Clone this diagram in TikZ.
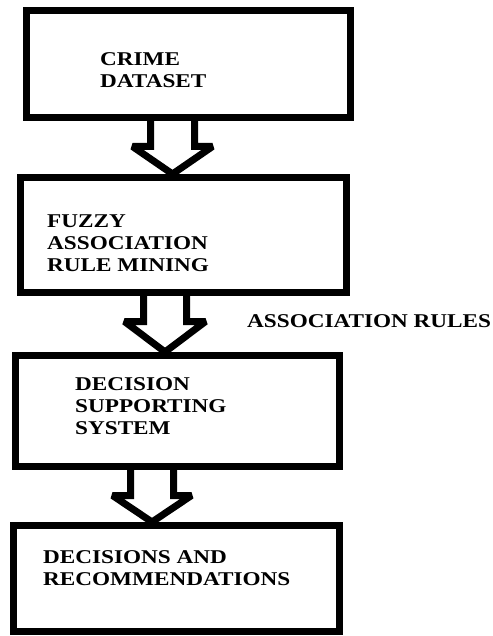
\documentclass[tikz,border=0pt]{standalone}
\usepackage{fontspec}
\setmainfont{Liberation Serif}[FakeStretch=1.19]
\usetikzlibrary{calc}
\begin{document}
\begin{tikzpicture}[x=1pt,y=-1pt,
  box/.style={draw=black, line width=7pt, rectangle, inner sep=0pt},
  barrow/.style={draw=black, line width=7pt, line join=miter, miter limit=2},
  lbl/.style={anchor=base west, inner sep=0pt, align=left, font=\fontsize{19.5}{22}\selectfont\bfseries}]
\useasboundingbox (0,0) rectangle (492,636);
% boxes
\node[box, minimum width=324pt, minimum height=107pt] (b1) at (188.5,64) {};
\node[box, minimum width=326pt, minimum height=115pt] (b2) at (183.5,235) {};
\node[box, minimum width=324pt, minimum height=111pt] (b3) at (177.5,411) {};
\node[box, minimum width=326pt, minimum height=106pt] (b4) at (176.5,578.5) {};
% texts (anchored at the baseline of their last line)
\node[lbl] (t1) at (100,88) {CRIME\\DATASET};
\node[lbl] (t2) at (47,271) {FUZZY\\ASSOCIATION\\RULE MINING};
\node[lbl] (t3) at (75,434) {DECISION\\SUPPORTING\\SYSTEM};
\node[lbl] (t4) at (43,585) {DECISIONS AND\\RECOMMENDATIONS};
\node[lbl] (t5) at (247,327) {ASSOCIATION RULES};
% head-top centres of the block arrows
\coordinate (c1) at (172.5,146.5);
\coordinate (c2) at (165,321.5);
\coordinate (c3) at (152,495.5);
% block arrows
\draw[barrow] ($(b1.south -| c1)+(-22,0)$) -- ($(c1)+(-22,0)$) -- ($(c1)+(-40,0)$)
  -- (b2.north -| c1) -- ($(c1)+(40,0)$) -- ($(c1)+(22,0)$) -- ($(b1.south -| c1)+(22,0)$);
\draw[barrow] ($(b2.south -| c2)+(-21.5,0)$) -- ($(c2)+(-21.5,0)$) -- ($(c2)+(-40.5,0)$)
  -- (b3.north -| c2) -- ($(c2)+(40.5,0)$) -- ($(c2)+(21.5,0)$) -- ($(b2.south -| c2)+(21.5,0)$);
\draw[barrow] ($(b3.south -| c3)+(-21.5,0)$) -- ($(c3)+(-21.5,0)$) -- ($(c3)+(-39.5,0)$)
  -- (b4.north -| c3) -- ($(c3)+(39.5,0)$) -- ($(c3)+(21.5,0)$) -- ($(b3.south -| c3)+(21.5,0)$);
\end{tikzpicture}
\end{document}
